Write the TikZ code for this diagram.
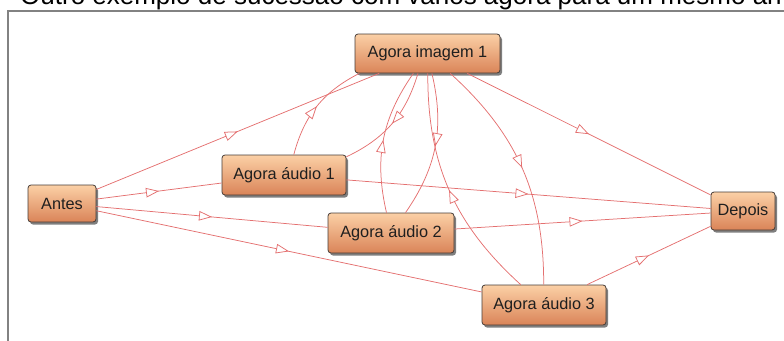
\documentclass[tikz,border=0pt]{standalone}
\usepackage{fontspec}
\setmainfont{Liberation Sans}
\usetikzlibrary{arrows.meta,decorations.markings,shadows}
\definecolor{nodetop}{RGB}{251,208,166}
\definecolor{nodebot}{RGB}{218,132,88}
\definecolor{nodeborder}{RGB}{70,60,55}
\definecolor{edgecol}{RGB}{228,112,112}
\definecolor{framecol}{RGB}{130,130,130}
\begin{document}
\begin{tikzpicture}[x=1pt,y=-1pt,
  nd/.style={draw=nodeborder, line width=0.8pt, rounded corners=3pt,
    top color=nodetop, bottom color=nodebot, inner sep=0pt,
    font=\fontsize{16.3}{19}\selectfont, text=black!88,
    drop shadow={shadow xshift=2pt, shadow yshift=-2.5pt, fill=black, opacity=0.5}},
  ed/.style={draw=edgecol, line width=0.75pt, postaction=decorate,
    decoration={markings, mark=at position 0.5 with {\arrow{Triangle[length=13pt,width=9.5pt,fill=white,color=edgecol,line width=0.75pt]}}}},
]
\useasboundingbox (0,0) rectangle (784,340);
\clip (0,0) rectangle (784,340);
\node[anchor=base west, inner sep=0pt, font=\fontsize{26}{30}\selectfont, text=black] (title) at (20,5) {Outro exemplo de sucessão com vários agora para um mesmo an};
\draw[framecol, line width=1.5pt] (8,345) -- (8,11) -- (790,11);

\node[nd, minimum width=145pt, minimum height=39pt] (img) at (427.5,53.5) {Agora imagem 1};
\node[nd, minimum width=68pt, minimum height=37pt] (antes) at (62,203.5) {Antes};
\node[nd, minimum width=124pt, minimum height=40pt] (a1) at (284,175) {Agora áudio 1};
\node[nd, minimum width=126pt, minimum height=40pt] (a2) at (391,233) {Agora áudio 2};
\node[nd, minimum width=124pt, minimum height=40pt] (a3) at (544,305) {Agora áudio 3};
\node[nd, minimum width=64pt, minimum height=38pt] (dep) at (743,211) {Depois};

\draw[ed] (antes) -- (img);
\draw[ed] (antes) -- (a1);
\draw[ed] (antes) -- (a2);
\draw[ed] (antes) -- (a3);
\draw[ed] (a1) -- (dep);
\draw[ed] (a2) -- (dep);
\draw[ed] (a3) -- (dep);
\draw[ed] (img) -- (dep);

\draw[ed] (a1) to[bend left=24] (img);
\draw[ed] (img) to[bend left=24] (a1);
\draw[ed] (a2) to[bend left=24] (img);
\draw[ed] (img) to[bend left=24] (a2);
\draw[ed] (a3) to[bend left=24] (img);
\draw[ed] (img) to[bend left=24] (a3);
\end{tikzpicture}
\end{document}
